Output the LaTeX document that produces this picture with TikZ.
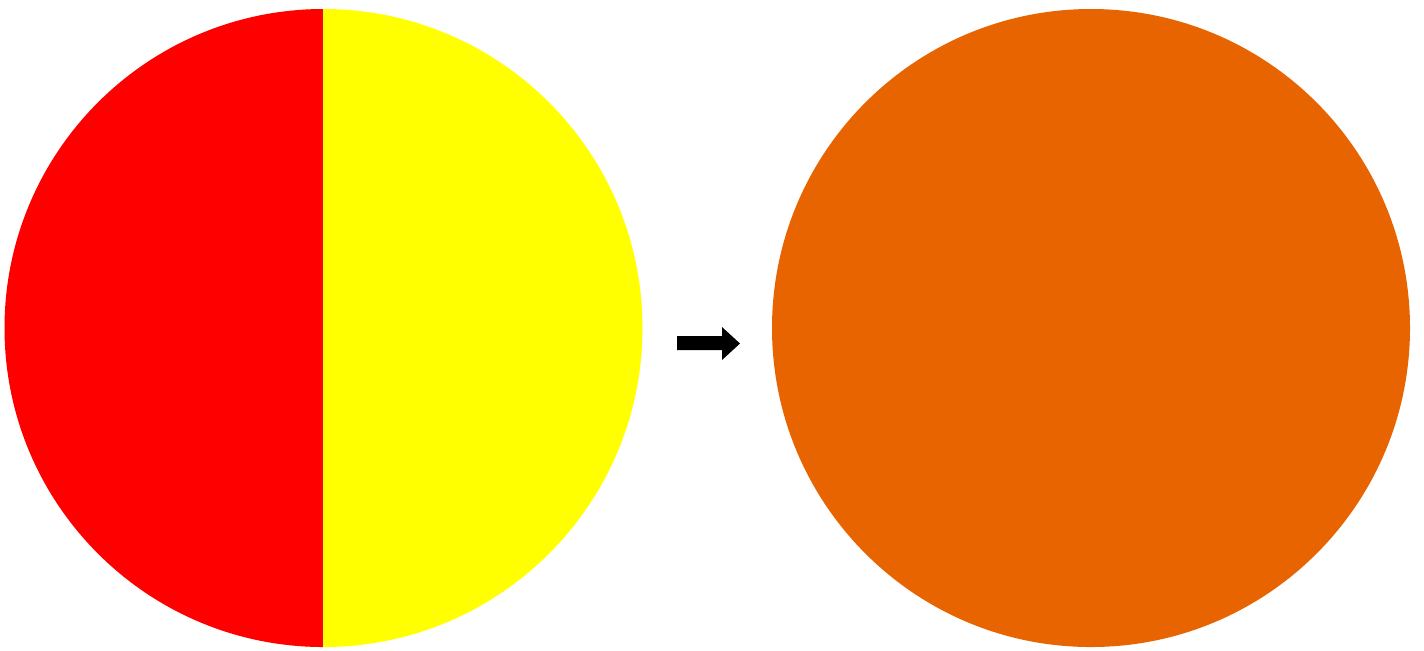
\documentclass[tikz,border=0pt]{standalone}
\definecolor{cred}{HTML}{FF0000}
\definecolor{cyellow}{HTML}{FFFF00}
\definecolor{corange}{HTML}{E86400}
\begin{document}
\begin{tikzpicture}[x=0.01cm,y=-0.01cm]
\useasboundingbox (0,0) rectangle (1424,650);
\fill[white] (0,0) rectangle (1424,650);
% left circle, two halves
\begin{scope}
\clip (323.5,328) circle[radius=319];
\fill[cyellow] (300,0) rectangle (650,650);
\fill[cred] (0,0) rectangle (323,650);
\end{scope}
% right circle
\fill[corange] (1091,328) circle[radius=319];
% block arrow
\fill[black] (677,336) -- (722,336) -- (722,327) -- (740,343.5) -- (722,360) -- (722,350) -- (677,350) -- cycle;
\end{tikzpicture}
\end{document}
